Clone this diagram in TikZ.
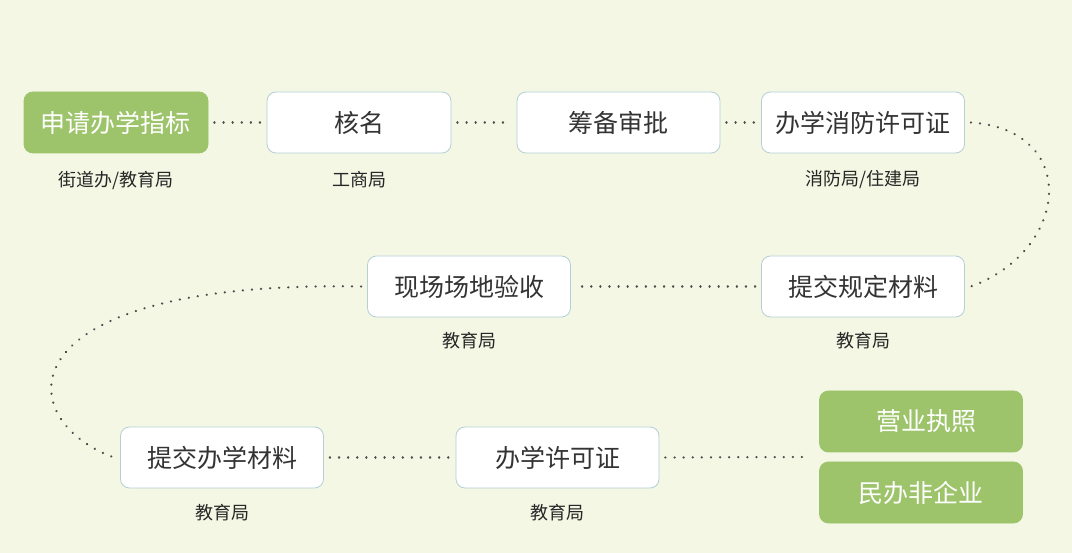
\documentclass[tikz,border=0pt]{standalone}
\usepackage{fontspec}
\setmainfont{Noto Sans CJK SC}
\begin{document}
\begin{tikzpicture}[x=1pt,y=-1pt,
  box/.style={draw=bord,fill=white,rounded corners=9pt,minimum width=203pt,minimum height=61pt,font=\fontsize{25}{28}\selectfont,text=black!80,line width=0.8pt},
  gbox/.style={box,fill=gfill,draw=gfill,text=white},
  lab/.style={font=\fontsize{18}{20}\selectfont,text=black!85},
  dots/.style={dash pattern=on 0.1pt off 9pt,line cap=round,line width=2.4pt,black!70}]
\definecolor{gfill}{HTML}{9DC46B}
\definecolor{bord}{HTML}{B5CFD6}
\fill[color={rgb,255:red,243;green,247;blue,228}] (0,0) rectangle (1072,553);
\useasboundingbox (0,0) rectangle (1072,553);
\node[gbox,minimum width=184pt] (a) at (116,122.5) {申请办学指标};
\node[box,minimum width=184pt] (b) at (359,122.5) {核名};
\node[box] (c) at (618.5,122.5) {筹备审批};
\node[box] (d) at (863,122.5) {办学消防许可证};
\node[box] (e) at (863,286.5) {提交规定材料};
\node[box] (f) at (469,286.5) {现场场地验收};
\node[box] (g) at (222,457.5) {提交办学材料};
\node[box] (h) at (557.5,457.5) {办学许可证};
\node[gbox] (i) at (921,421.5) {\hspace{10pt}营业执照};
\node[gbox] (j) at (921,492.5) {民办非企业};
\node[lab] (la) at (116,180) {街道办/教育局};
\node[lab] (lb) at (359,180) {工商局};
\node[lab] (ld) at (863,180) {消防局/住建局};
\node[lab] (le) at (863,341) {教育局};
\node[lab] (lf) at (469,341) {教育局};
\node[lab] (lg) at (222,513) {教育局};
\node[lab] (lh) at (557.5,513) {教育局};
\coordinate (k) at (805,457);
\draw[dots] ([xshift=6pt]a.east) -- ([xshift=-6pt]b.west);
\draw[dots] ([xshift=6pt]b.east) -- ([xshift=-6pt]c.west);
\draw[dots] ([xshift=6pt]c.east) -- ([xshift=-6pt]d.west);
\draw[dots] ([xshift=6pt]d.east) .. controls (1080,130) and (1070,250) .. ([xshift=6pt]e.east);
\draw[dots] ([xshift=-6pt]e.west) -- ([xshift=6pt]f.east);
\draw[dots] ([xshift=-6pt]f.west) .. controls (0,280) and (10,420) .. ([xshift=-6pt]g.west);
\draw[dots] ([xshift=6pt]g.east) -- ([xshift=-6pt]h.west);
\draw[dots] ([xshift=6pt]h.east) -- (k);
\end{tikzpicture}
\end{document}
